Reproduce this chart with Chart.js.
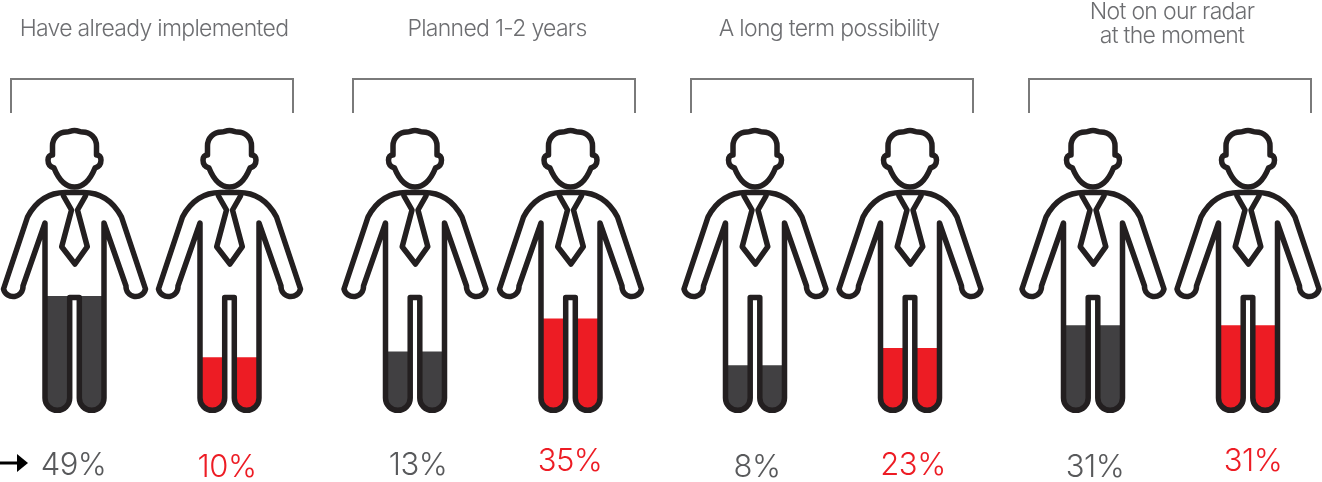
<!DOCTYPE html>
<html lang="en">
<head>
<meta charset="UTF-8">
<title>Implementation timeline by group</title>
<script src="https://cdn.jsdelivr.net/npm/chart.js"></script>
<style>
    html, body { margin: 0; padding: 0; background: #fff; }
    canvas { display: block; }
</style>
</head>
<body>
<canvas id="chart" width="1322" height="482"></canvas>
<script>
// data
const categories = [['Have already implemented'], ['Planned 1-2 years'], ['A long term possibility'], ['Not on our radar', 'at the moment']];
const darkShare = [49, 13, 8, 31];
const redShare = [10, 35, 23, 31];
// how full the legs are drawn, % of leg height (not proportional to the shares in the original)
const darkLegFill = [100, 51, 39, 74];
const redLegFill = [46, 80, 54, 74];

// layout
const darkCentres = [74.5, 415, 755, 1093];
const redCentres = [229.5, 570.5, 910, 1248];
const bracketEnds = [[11, 293], [353, 635], [691, 973], [1029, 1311]];
const titleCentres = [154, 497, 829, 1172];
const darkLabelPos = [[73.5, 475], [418, 475], [757, 477], [1095, 477]];
const redLabelPos = [[227, 477], [570, 471], [913, 475], [1253, 471]];
const legOffset = 17.1;

const INK = '#231f20';
const DARK = '#414042';
const RED = '#ed1c24';

const personPaths = [
    // body, arms and legs
    'M-29.5 223 L-29.5 398 A12.3 12.3 0 0 0 -4.8 398 L-4.8 297.5 L4.8 297.5 L4.8 398 A12.3 12.3 0 0 0 29.5 398 L29.5 223 ' +
    'L51.5 286 A9.9 9.9 0 0 0 71 289 L47 217 C38 200 25 192.5 9 192.5 L-9 192.5 C-25 192.5 -38 200 -47 217 ' +
    'L-71 289 A9.9 9.9 0 0 0 -51.5 286 Z',
    // head
    'M0 130.5 C4 130.5 5 132 8 132 C16 132 22 138 22 146 L22 155 C25 155 26.5 157 26.5 160 C26.5 165 24 167 20.5 168 ' +
    'C16 179 9 187 0 187 C-9 187 -16 179 -20.5 168 C-24 167 -26.5 165 -26.5 160 C-26.5 157 -25 155 -22 155 L-22 146 ' +
    'C-22 138 -16 132 -8 132 C-5 132 -4 130.5 0 130.5 Z',
    // tie
    'M-11 196 L-3 210 L-12.8 246.7 L0.5 264 L12.8 246.7 L3 210 L11 196'
].map(d => new Path2D(d));

function legBars(centres, fills) {
    const bars = [];
    centres.forEach((c, i) => {
        bars.push({ x: c - legOffset, y: fills[i] });
        bars.push({ x: c + legOffset, y: fills[i] });
    });
    return bars;
}

const pictogram = {
    id: 'pictogram',
    afterDatasetsDraw(chart) {
        const ctx = chart.ctx;
        const xs = chart.scales.x;
        ctx.save();

        // people on top of the leg fills
        ctx.strokeStyle = INK;
        ctx.lineWidth = 5.5;
        ctx.lineJoin = 'round';
        ctx.lineCap = 'round';
        darkCentres.concat(redCentres).forEach(c => {
            ctx.save();
            ctx.translate(xs.getPixelForValue(c), 0);
            personPaths.forEach(p => ctx.stroke(p));
            ctx.restore();
        });

        // brackets
        ctx.strokeStyle = '#7a7a7a';
        ctx.lineWidth = 2;
        ctx.lineCap = 'butt';
        ctx.lineJoin = 'miter';
        bracketEnds.forEach(([a, b]) => {
            ctx.beginPath();
            ctx.moveTo(xs.getPixelForValue(a), 113);
            ctx.lineTo(xs.getPixelForValue(a), 79);
            ctx.lineTo(xs.getPixelForValue(b), 79);
            ctx.lineTo(xs.getPixelForValue(b), 113);
            ctx.stroke();
        });

        // group titles
        ctx.textAlign = 'center';
        ctx.textBaseline = 'alphabetic';
        ctx.font = '300 23px Inter';
        ctx.letterSpacing = '-0.7px';
        ctx.fillStyle = '#6d6e71';
        categories.forEach((lines, i) => {
            const top = lines.length > 1 ? 19 : 36;
            lines.forEach((t, j) => ctx.fillText(t, titleCentres[i], top + j * 24));
        });

        // percentages
        ctx.font = '300 31px Inter';
        ctx.letterSpacing = '-0.5px';
        ctx.fillStyle = '#58595b';
        darkShare.forEach((v, i) => ctx.fillText(v + '%', darkLabelPos[i][0], darkLabelPos[i][1]));
        ctx.fillStyle = RED;
        redShare.forEach((v, i) => ctx.fillText(v + '%', redLabelPos[i][0], redLabelPos[i][1]));
        ctx.letterSpacing = '0px';

        // arrow pointing at the first figure
        ctx.strokeStyle = '#000';
        ctx.fillStyle = '#000';
        ctx.lineWidth = 3;
        ctx.beginPath();
        ctx.moveTo(0, 463);
        ctx.lineTo(20, 463);
        ctx.stroke();
        ctx.beginPath();
        ctx.moveTo(28, 463);
        ctx.lineTo(17, 454);
        ctx.lineTo(17, 472);
        ctx.closePath();
        ctx.fill();

        ctx.restore();
    }
};

new Chart(document.getElementById('chart').getContext('2d'), {
    type: 'bar',
    data: {
        datasets: [
            { label: 'Dark', data: legBars(darkCentres, darkLegFill), backgroundColor: DARK },
            { label: 'Red', data: legBars(redCentres, redLegFill), backgroundColor: RED }
        ]
    },
    options: {
        responsive: false,
        animation: false,
        layout: { padding: { top: 296, bottom: 72, left: 0, right: 0 } },
        datasets: {
            bar: {
                grouped: false,
                barThickness: 25,
                borderSkipped: false,
                borderRadius: { topLeft: 0, topRight: 0, bottomLeft: 12, bottomRight: 12 }
            }
        },
        plugins: { legend: { display: false }, tooltip: { enabled: false } },
        scales: {
            x: { type: 'linear', min: 0, max: 1322, display: false, offset: false },
            y: { min: 0, max: 100, display: false }
        }
    },
    plugins: [pictogram]
});
</script>
</body>
</html>
